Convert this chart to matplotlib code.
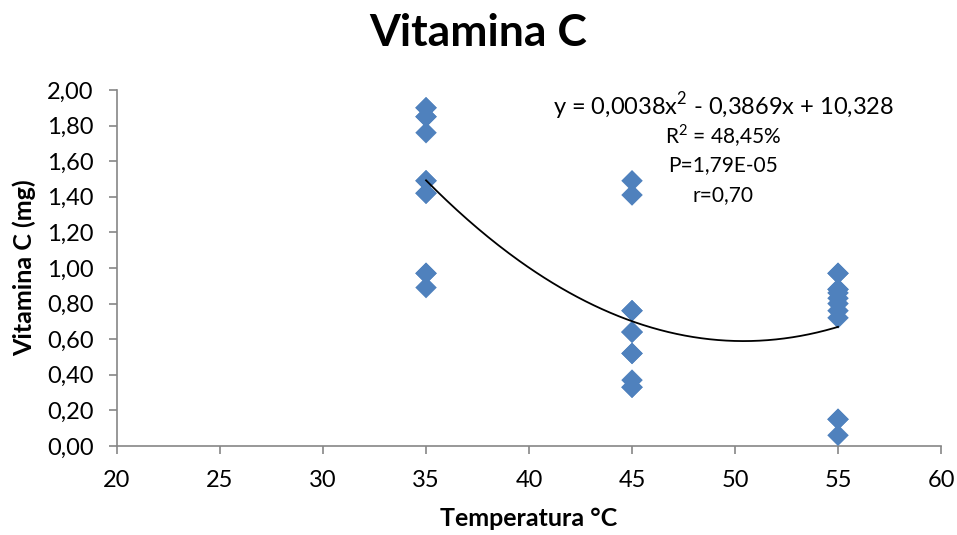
import numpy as np
import matplotlib.pyplot as plt
from matplotlib.ticker import FuncFormatter

# values; repeated values are points hidden under others
temp_35 = [1.90, 1.85, 1.76, 1.49, 1.42, 0.97, 0.89, 1.90, 1.85, 1.49, 1.42, 0.97]
temp_45 = [1.49, 1.41, 0.76, 0.64, 0.52, 0.37, 0.33, 0.76, 0.64, 0.52, 0.33, 0.64]
temp_55 = [0.97, 0.88, 0.86, 0.83, 0.80, 0.76, 0.72, 0.15, 0.06, 0.97, 0.88, 0.15]
temperatures = [35, 45, 55]

stats_lines = ["y = 0,0038x$^2$ - 0,3869x + 10,328", "R$^2$ = 48,45%", "P=1,79E-05", "r=0,70"]

x = np.repeat(temperatures, 12)
y = np.array(temp_35 + temp_45 + temp_55)

plt.rcParams['font.family'] = ['Lato', 'DejaVu Sans']
plt.rcParams['mathtext.fontset'] = 'custom'
plt.rcParams['mathtext.rm'] = 'Lato'

fig = plt.figure(figsize=(9.57, 5.35), dpi=100)
ax = fig.add_axes([0.1223, 0.1664, 0.8610, 0.6654])

ax.scatter(x, y, marker='D', s=120, color='#4F81BD', edgecolor='none', zorder=3)

# second order trendline
coef = np.polyfit(x, y, 2)
xs = np.linspace(35, 55, 200)
ax.plot(xs, np.polyval(coef, xs), color='black', lw=1.3, zorder=4)

ax.set_xlim(20, 60)
ax.set_ylim(0, 2.0)
ax.set_xticks(np.arange(20, 61, 5))
ax.set_yticks(np.arange(0, 2.01, 0.2))
ax.yaxis.set_major_formatter(FuncFormatter(lambda v, p: f"{v:.2f}".replace('.', ',')))

for s in ['top', 'right']:
    ax.spines[s].set_visible(False)
for s in ['left', 'bottom']:
    ax.spines[s].set_color('#868686')
    ax.spines[s].set_linewidth(1.2)
ax.tick_params(direction='out', length=6, width=1.2, color='#868686', labelsize=17)
ax.tick_params(axis='x', pad=11)
ax.tick_params(axis='y', pad=11)

ax.set_xlabel('Temperatura °C', fontsize=18, fontweight='bold', labelpad=12)
ax.set_ylabel('Vitamina C (mg)', fontsize=18, fontweight='bold', labelpad=8)
fig.suptitle('Vitamina C', fontsize=32, fontweight='bold', y=0.975)

for i, line in enumerate(stats_lines):
    ax.text(0.736, 0.955 - i * 0.083, line, transform=ax.transAxes,
            ha='center', va='center', fontsize=17 if i == 0 else 15)

fig.savefig('out.png', dpi=100)
